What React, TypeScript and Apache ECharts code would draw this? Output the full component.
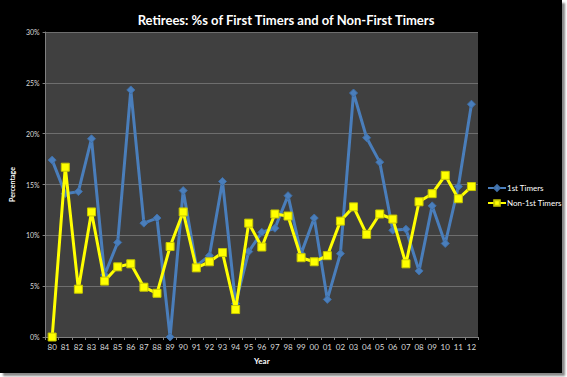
import React, { useEffect, useRef } from "react";
import * as echarts from "echarts";

const years = ["80","81","82","83","84","85","86","87","88","89","90","91","92","93","94","95","96","97","98","99","00","01","02","03","04","05","06","07","08","09","10","11","12"];
const firstTimers = [17.4,14.1,14.3,19.5,6.1,9.3,24.3,11.2,11.7,0,14.4,7.0,8.0,15.3,3.3,8.4,10.3,10.7,13.9,8.2,11.7,3.7,8.2,24.0,19.6,17.2,10.5,10.6,6.5,12.9,9.2,14.8,22.9];
const nonFirstTimers = [0,16.7,4.7,12.3,5.5,6.9,7.2,4.9,4.3,8.9,12.3,6.8,7.4,8.3,2.7,11.2,8.85,12.1,11.9,7.8,7.4,8.0,11.4,12.8,10.1,12.1,11.6,7.2,13.3,14.1,15.9,13.6,14.8];
const seriesNames = ["1st Timers", "Non-1st Timers"];
const yTicks = [0, 5, 10, 15, 20, 25, 30];

export default function App() {
  const ref = useRef<HTMLDivElement>(null);
  useEffect(() => {
    const chart = echarts.init(ref.current!, null, { renderer: "svg" });
    const font = "Lato, 'Open Sans', sans-serif";
    chart.setOption({
      animation: false,
      backgroundColor: "#000000",
      textStyle: { fontFamily: font },
      title: {
        text: "Retirees: %s of First Timers and of Non-First Timers",
        left: 281,
        top: 8,
        textAlign: "center",
        textStyle: { color: "#ffffff", fontSize: 13, fontWeight: "bold", fontFamily: font },
      },
      legend: {
        orient: "vertical",
        left: 487,
        top: 184,
        padding: 0,
        width: 75,
        itemWidth: 18,
        itemHeight: 7,
        itemGap: 7,
        textStyle: { color: "#ffffff", fontSize: 8, fontFamily: font, padding: [0, 0, 0, -4], overflow: "none" },
        data: seriesNames,
      },
      grid: { left: 41, top: 32, width: 437, height: 305, show: true, backgroundColor: "#404040", borderWidth: 0 },
      xAxis: {
        type: "category",
        data: years,
        boundaryGap: true,
        name: "Year",
        nameLocation: "middle",
        nameGap: 20,
        nameTextStyle: { color: "#ffffff", fontSize: 8, fontWeight: "bold", fontFamily: font },
        axisLine: { lineStyle: { color: "#808080", width: 1 } },
        axisTick: { show: true, alignWithLabel: false, length: 3, lineStyle: { color: "#808080" } },
        axisLabel: { color: "#d9d9d9", fontSize: 8, margin: 6, interval: 0 },
      },
      yAxis: {
        type: "value",
        min: 0,
        max: 30,
        interval: 5,
        name: "Percentage",
        nameLocation: "middle",
        nameGap: 22,
        nameTextStyle: { color: "#ffffff", fontSize: 7, fontWeight: "bold", fontFamily: font },
        axisLine: { show: true, lineStyle: { color: "#808080" } },
        axisTick: { show: true, length: 3, lineStyle: { color: "#808080" } },
        axisLabel: { color: "#d9d9d9", fontSize: 7, margin: 6, formatter: (v: number) => (yTicks.includes(v) ? v + "%" : "") },
        splitLine: { lineStyle: { color: "#6e6e6e", width: 1 } },
      },
      series: [
        {
          name: seriesNames[0],
          type: "line",
          data: firstTimers,
          symbol: "diamond",
          symbolSize: 8,
          lineStyle: { color: "#4a7ebb", width: 3 },
          itemStyle: { color: "#4a7ebb", borderColor: "#3f6fa8", borderWidth: 1 },
          z: 2,
        },
        {
          name: seriesNames[1],
          type: "line",
          data: nonFirstTimers,
          symbol: "rect",
          symbolSize: 8,
          lineStyle: { color: "#ffff00", width: 3 },
          itemStyle: { color: "#ffff00", borderColor: "#c8c800", borderWidth: 1 },
          z: 3,
        },
      ],
    });
    return () => chart.dispose();
  }, []);
  return (
    <div style={{ position: "fixed", left: 0, top: 0, width: 567, height: 377, background: "#ffffff" }}>
      <div style={{ position: "absolute", left: 0, top: 0, width: 562, height: 373, boxShadow: "3px 3px 2px #888888" }}>
        <div ref={ref} style={{ width: 562, height: 373 }} />
      </div>
    </div>
  );
}
